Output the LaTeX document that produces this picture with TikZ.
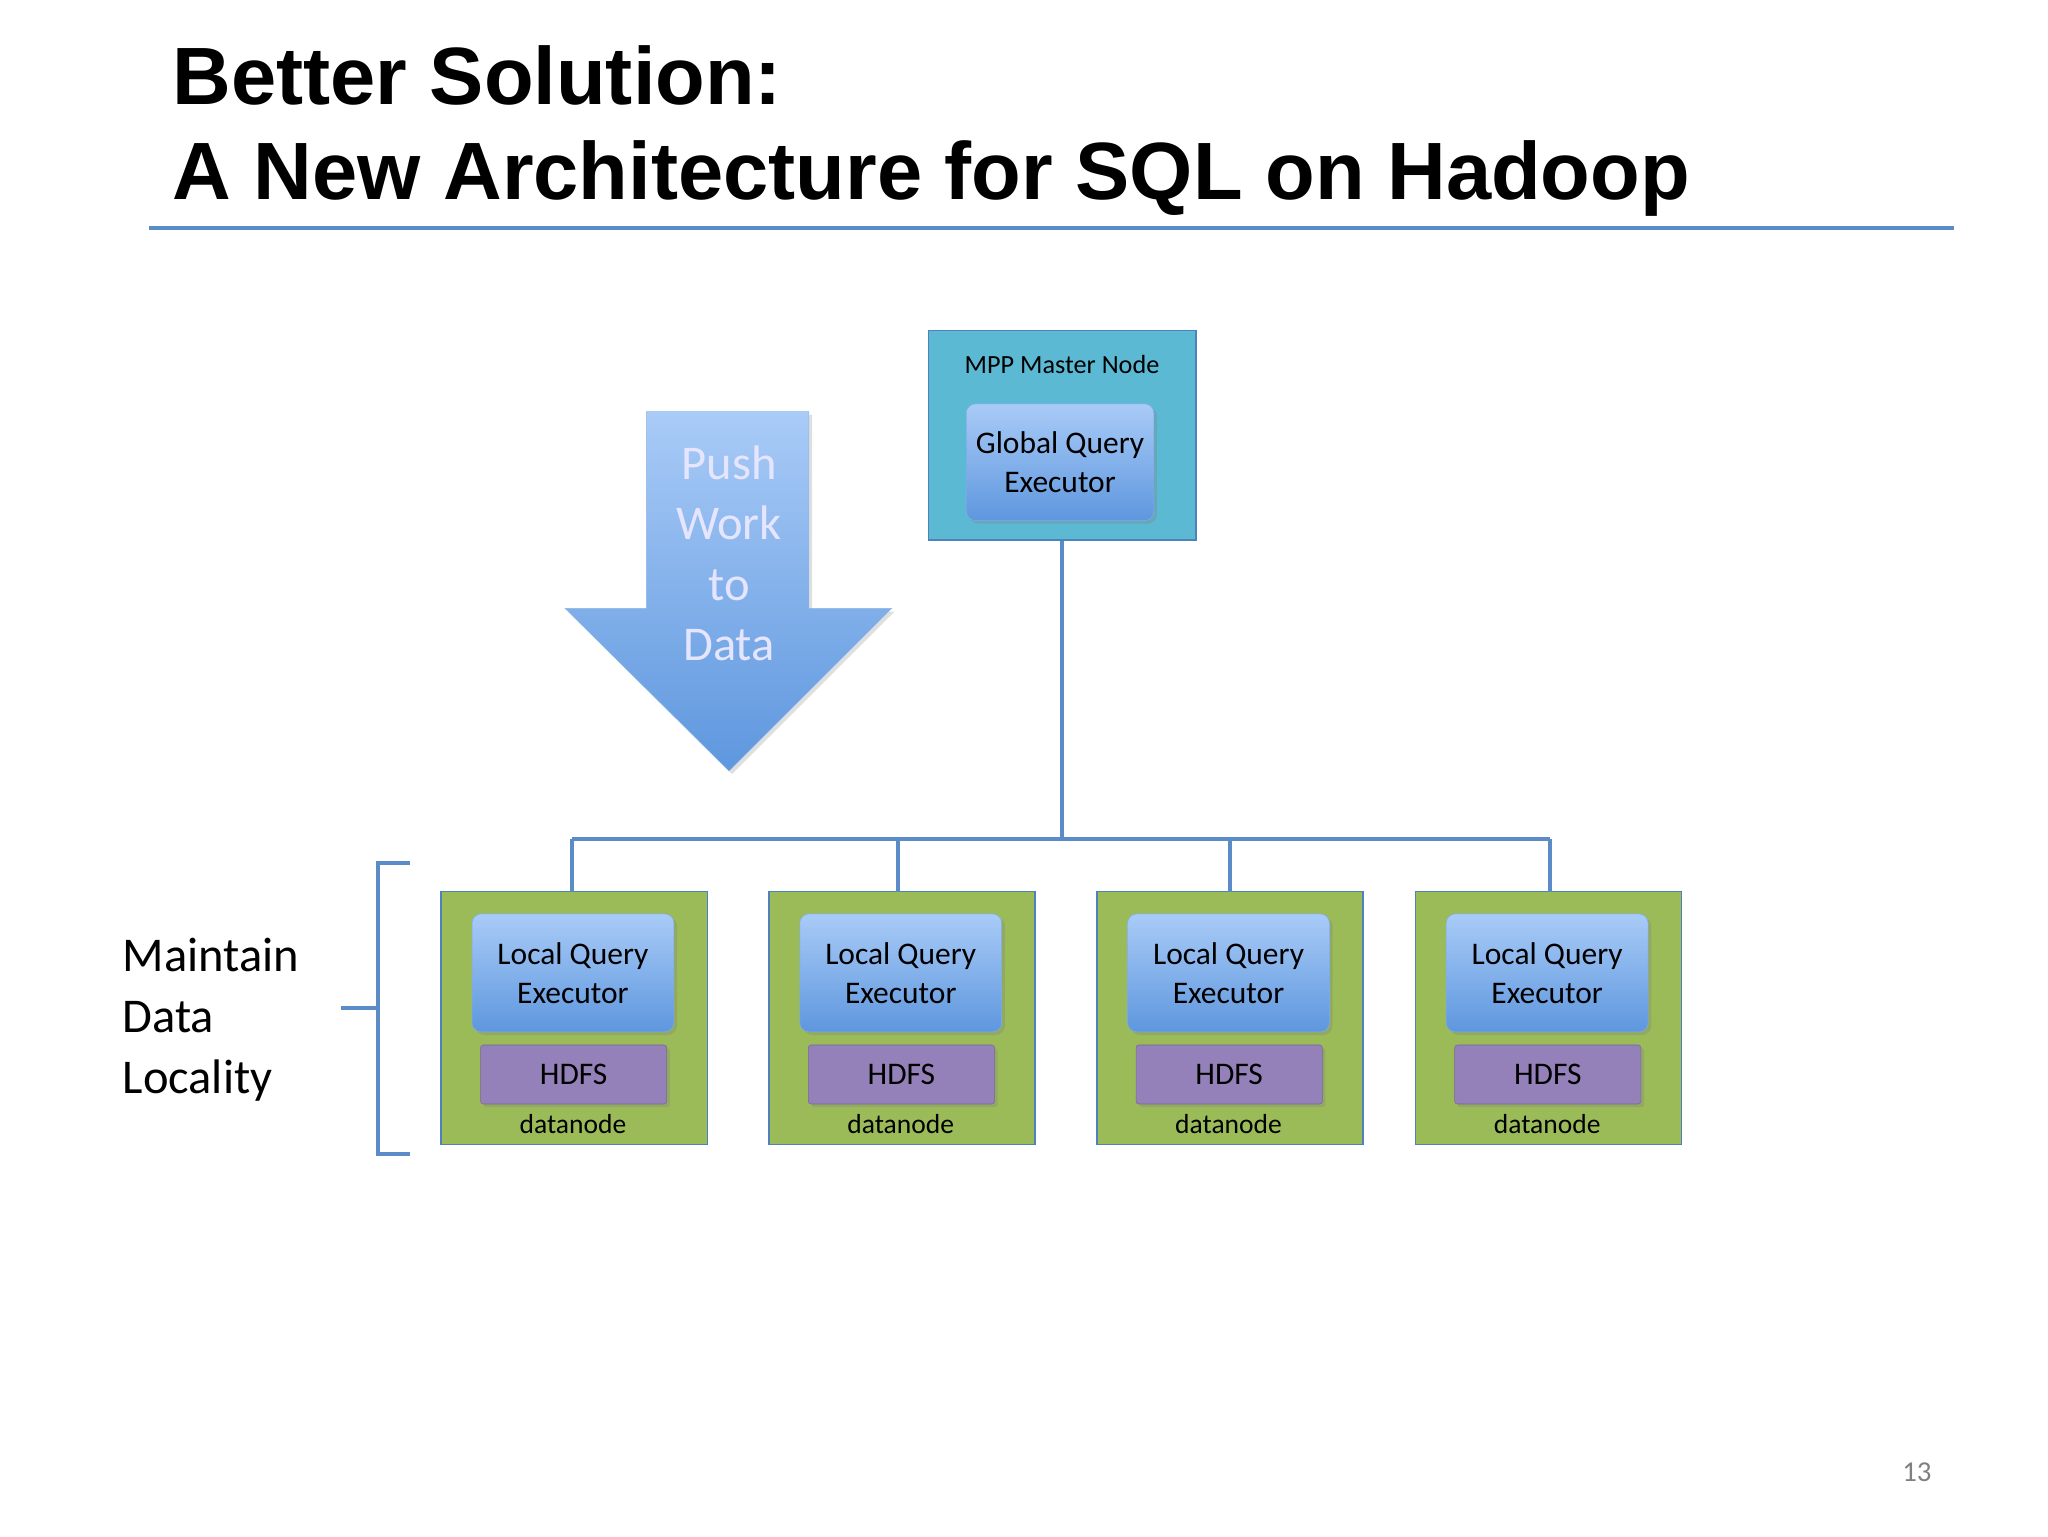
\documentclass[tikz,border=0pt]{standalone}
\usepackage{fontspec}
\setmainfont{Carlito}
\newfontfamily\titlefont{Liberation Sans}
\usetikzlibrary{shadows}
\definecolor{bord}{HTML}{4F81BD}
\definecolor{teal}{HTML}{5BB9D3}
\definecolor{grn}{HTML}{9BBB59}
\definecolor{purp}{HTML}{9581BA}
\definecolor{lb1}{HTML}{A9CBF7}
\definecolor{lb2}{HTML}{5E97DE}
\definecolor{linec}{HTML}{5B8CC8}
\begin{document}
\begin{tikzpicture}[x=1pt,y=-1pt,
  exec/.style={rounded corners=7pt,top color=lb1,bottom color=lb2,draw=lb2!80!white,minimum width=154pt,minimum height=90pt,align=center,font=\fontsize{24}{30}\selectfont,drop shadow={opacity=0.3}},
  dn/.style={fill=grn,draw=bord,line width=1.2pt,minimum width=203pt,minimum height=193pt},
  hdfs/.style={fill=purp,draw=purp!80!black,rounded corners=2pt,minimum width=142pt,minimum height=45pt,font=\fontsize{24}{28}\selectfont,drop shadow={opacity=0.3}},
  conn/.style={draw=linec,line width=3pt}]
\useasboundingbox (0,0) rectangle (1562,1172);
\node[anchor=base west,font=\titlefont\bfseries\fontsize{62}{70}\selectfont] (t1) at (128,80) {Better Solution:};
\node[anchor=base west,font=\titlefont\bfseries\fontsize{62}{70}\selectfont] (t2) at (128,152) {A New Architecture for SQL on Hadoop};
\draw[draw=linec,line width=3.5pt] (114,174) -- (1490,174);
% master
\node[fill=teal,draw=bord,line width=1.2pt,minimum width=204pt,minimum height=160pt] (mpp) at (810,332) {};
\node[font=\fontsize{20}{24}\selectfont] (mppt) at (810,278) {MPP Master Node};
\node[exec,minimum width=143pt,minimum height=89pt] (gqe) at (808.5,352.5) {Global Query\\Executor};
% arrow
\shade[top color=lb1,bottom color=lb2,draw=lb2!70!white,drop shadow={opacity=0.25}] (493,314) -- (617,314) -- (617,464) -- (680,464) -- (556,588) -- (431,464) -- (493,464) -- cycle;
\node[text=white!90!blue,font=\fontsize{37}{46}\selectfont,align=center] (push) at (556,422) {Push\\Work\\to\\Data};
% datanodes
\foreach \i/\x/\cx in {1/438/436,2/688/685,3/938/938,4/1181/1182}{
  \node[dn] (d\i) at (\x,776.5) {};
  \node[exec] (l\i) at (\x-1,742) {Local Query\\Executor};
  \node[hdfs] (h\i) at (\x-0.5,819.5) {HDFS};
  \node[font=\fontsize{21}{24}\selectfont] (dl\i) at (\x-1,857) {datanode};
  \coordinate (c\i) at (\cx,640);
  \draw[conn] (c\i) -- (\cx,680);
}
\draw[conn] (mpp.south) -- (810,640);
\draw[conn] (c1) -- (c4);
% bracket
\coordinate (b1) at (313,658); \coordinate (b2) at (313,880);
\draw[conn,line cap=butt] (b1) -- (288,658) -- (288,880) -- (b2);
\coordinate (bm) at (260,769);
\draw[conn] (bm) -- (288,769);
\node[anchor=west,align=left,font=\fontsize{37}{46.5}\selectfont] (ml) at (90,778) {Maintain\\Data\\Locality};
\node[text=gray,font=\fontsize{22}{26}\selectfont] (pg) at (1462,1123) {13};
\end{tikzpicture}
\end{document}
